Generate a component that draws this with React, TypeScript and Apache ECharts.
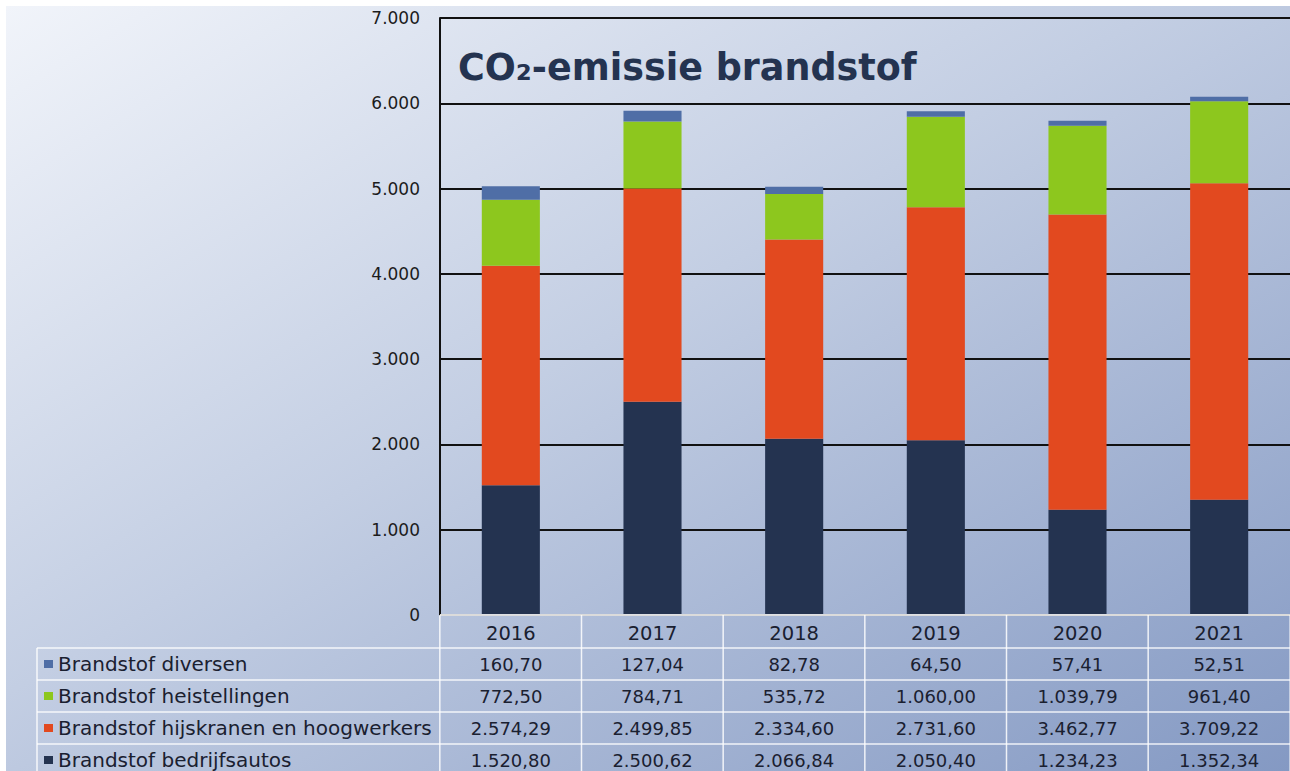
import React, { useEffect, useRef } from "react";
import * as echarts from "echarts";

const years = ["2016", "2017", "2018", "2019", "2020", "2021"];
const bedrijfsautos = [1520.8, 2500.62, 2066.84, 2050.4, 1234.23, 1352.34];
const hijskranen = [2574.29, 2499.85, 2334.6, 2731.6, 3462.77, 3709.22];
const heistellingen = [772.5, 784.71, 535.72, 1060.0, 1039.79, 961.4];
const diversen = [160.7, 127.04, 82.78, 64.5, 57.41, 52.51];
const yTicks = [0, 1000, 2000, 3000, 4000, 5000, 6000, 7000];

const seriesDefs = [
  { name: "Brandstof bedrijfsautos", data: bedrijfsautos, color: "#243350" },
  { name: "Brandstof hijskranen en hoogwerkers", data: hijskranen, color: "#E2491F" },
  { name: "Brandstof heistellingen", data: heistellingen, color: "#8DC71E" },
  { name: "Brandstof diversen", data: diversen, color: "#4F6EA6" },
];
// table row order (top to bottom)
const tableOrder = [3, 2, 1, 0];

const FONT = "DejaVu Sans";

function fmtNL(v: number, dec: number): string {
  const neg = v < 0;
  const s = Math.abs(v).toFixed(dec);
  const [ip, fp] = s.split(".");
  const withDots = ip.replace(/\B(?=(\d{3})+(?!\d))/g, ".");
  return (neg ? "-" : "") + withDots + (fp ? "," + fp : "");
}

export default function App() {
  const ref = useRef<HTMLDivElement>(null);
  useEffect(() => {
    document.body.style.margin = "0";
    const chart = echarts.init(ref.current!, null, { renderer: "svg" });
    const W = 1290, H = 771;
    const gridLeft = 440, gridTop = 18, gridBottom = 615;
    const catW = 142;
    const gridWidth = catW * years.length;
    chart.setOption({
      animation: false,
      backgroundColor: "#ffffff",
      grid: { left: gridLeft, top: gridTop, width: gridWidth, height: gridBottom - gridTop, containLabel: false },
      xAxis: {
        type: "category",
        data: years,
        axisLine: { show: false },
        axisTick: { show: false },
        axisLabel: { show: false },
        splitLine: { show: false },
      },
      yAxis: {
        type: "value",
        min: yTicks[0],
        max: yTicks[yTicks.length - 1],
        interval: 1000,
        axisLine: { show: true, lineStyle: { color: "#111111", width: 2 } },
        axisTick: { show: false },
        axisLabel: {
          margin: 20,
          fontFamily: FONT,
          fontSize: 17,
          color: "#1c1c1c",
          formatter: (v: number) => fmtNL(v, 0),
        },
        splitLine: { show: true, lineStyle: { color: "#111111", width: 2 } },
      },
      series: seriesDefs.map((s) => ({
        type: "bar",
        name: s.name,
        stack: "total",
        data: s.data,
        barWidth: "41%",
        itemStyle: { color: s.color },
        z: 3,
      })),
    });

    const colX = years.map((_, i) => chart.convertToPixel({ xAxisIndex: 0 }, i) as number);
    const y0 = chart.convertToPixel({ yAxisIndex: 0 }, 0) as number;
    const headerH = 33;
    const rowH = 32;
    const tableLeft = 37;
    const tableRight = gridLeft + gridWidth;
    const lineColor = "rgba(255,255,255,0.85)";

    const g: any[] = [];
    // background
    g.push({
      type: "rect",
      z: -10,
      silent: true,
      shape: { x: 6, y: 6, width: W - 6, height: H - 6 },
      style: {
        fill: new echarts.graphic.LinearGradient(0, 0, 1, 1, [
          { offset: 0, color: "#f1f4fa" },
          { offset: 0.45, color: "#c3cee3" },
          { offset: 1, color: "#8499c3" },
        ]),
      },
    });
    // title
    g.push({
      type: "text",
      z: 10,
      x: 458,
      y: 49,
      style: {
        text: "CO₂-emissie brandstof",
        fontFamily: FONT,
        fontWeight: "bold",
        fontSize: 36.5,
        fill: "#243350",
      },
    });
    // white line over y=0
    g.push({
      type: "line",
      z: 20,
      shape: { x1: gridLeft, y1: y0, x2: tableRight, y2: y0 },
      style: { stroke: lineColor, lineWidth: 2 },
    });
    const nRows = tableOrder.length;
    const rowTop = (r: number) => y0 + headerH + r * rowH;
    // horizontal lines
    for (let r = 0; r <= nRows; r++) {
      const yy = rowTop(r);
      g.push({
        type: "line",
        z: 20,
        shape: { x1: tableLeft, y1: yy, x2: tableRight, y2: yy },
        style: { stroke: lineColor, lineWidth: 1.5 },
      });
    }
    // vertical lines
    g.push({
      type: "line",
      z: 20,
      shape: { x1: tableLeft, y1: rowTop(0), x2: tableLeft, y2: rowTop(nRows) },
      style: { stroke: lineColor, lineWidth: 1.5 },
    });
    for (let i = 0; i <= years.length; i++) {
      const xx = i < years.length ? colX[i] - catW / 2 : colX[years.length - 1] + catW / 2;
      g.push({
        type: "line",
        z: 20,
        shape: { x1: xx, y1: y0, x2: xx, y2: rowTop(nRows) },
        style: { stroke: lineColor, lineWidth: 1.5 },
      });
    }
    // header years
    years.forEach((yr, i) => {
      g.push({
        type: "text",
        z: 21,
        x: colX[i],
        y: y0 + headerH / 2 + 2,
        style: {
          text: yr,
          fontFamily: FONT,
          fontSize: 19.5,
          lineHeight: 18,
          fill: "#1a2030",
          align: "center",
          verticalAlign: "middle",
        },
      });
    });
    // rows
    tableOrder.forEach((si, r) => {
      const s = seriesDefs[si];
      const cy = rowTop(r) + rowH / 2;
      g.push({
        type: "rect",
        z: 21,
        shape: { x: 44, y: cy - 4, width: 9, height: 8 },
        style: { fill: s.color },
      });
      g.push({
        type: "text",
        z: 21,
        x: 58,
        y: cy,
        style: {
          text: s.name,
          fontFamily: FONT,
          fontSize: 20,
          lineHeight: 18,
          fill: "#1a2030",
          align: "left",
          verticalAlign: "middle",
        },
      });
      s.data.forEach((v, i) => {
        g.push({
          type: "text",
          z: 21,
          x: colX[i],
          y: cy,
          style: {
            text: fmtNL(v, 2),
            fontFamily: FONT,
            fontSize: 18,
            lineHeight: 18,
            fill: "#1a2030",
            align: "center",
            verticalAlign: "middle",
          },
        });
      });
    });
    chart.setOption({ graphic: g });
    return () => chart.dispose();
  }, []);
  return (
    <div
      ref={ref}
      style={{ position: "fixed", left: 0, top: 0, width: 1290, height: 771 }}
    />
  );
}
